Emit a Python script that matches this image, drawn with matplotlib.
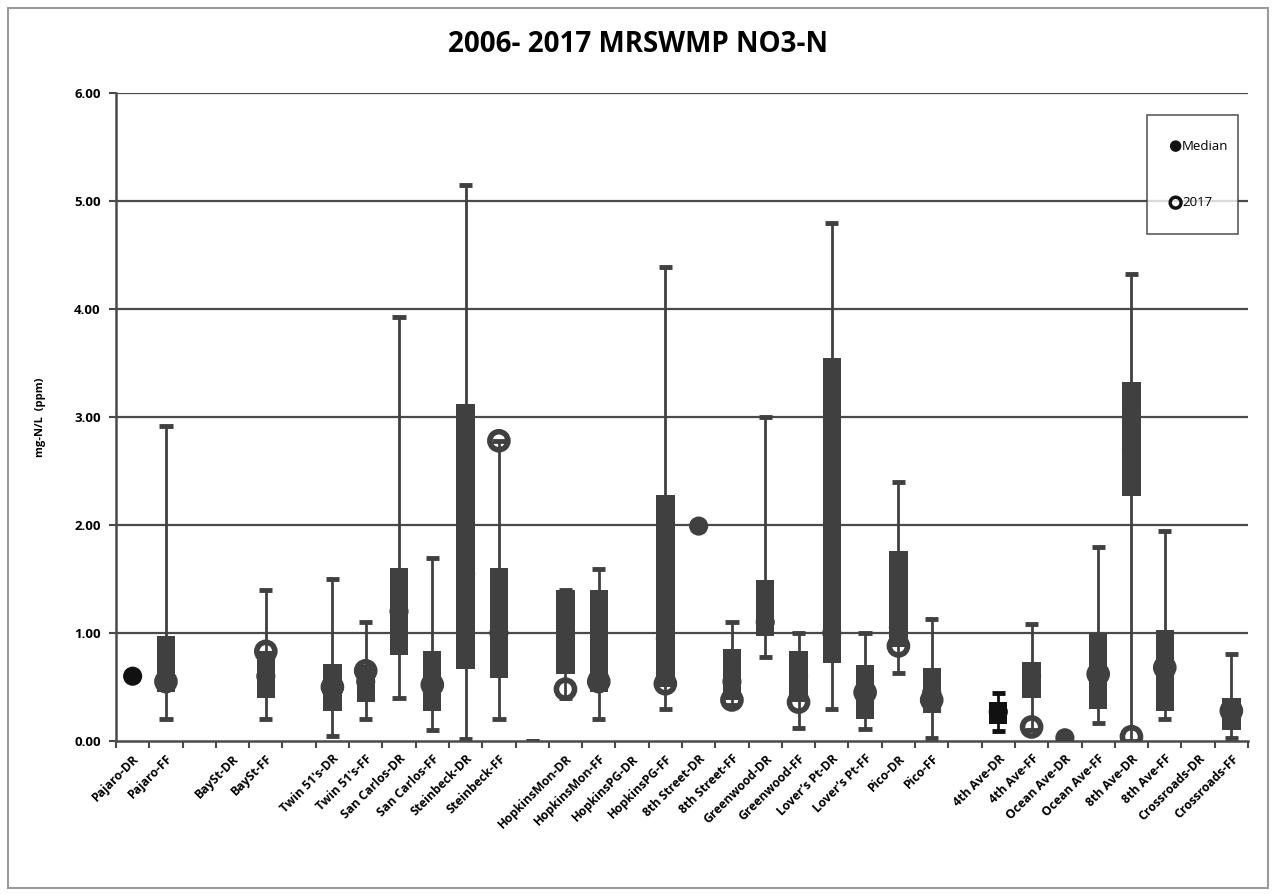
import numpy as np
import matplotlib.pyplot as plt
from matplotlib.patches import Rectangle

plt.rcParams['font.family'] = ['Open Sans', 'DejaVu Sans']

nan = np.nan

# one slot per site, empty strings are the spacer slots
categories = ["Pajaro-DR", "Pajaro-FF", "", "BaySt-DR", "BaySt-FF", "",
              "Twin 51's-DR", "Twin 51's-FF", "San Carlos-DR", "San Carlos-FF",
              "Steinbeck-DR", "Steinbeck-FF", "", "HopkinsMon-DR", "HopkinsMon-FF",
              "HopkinsPG-DR", "HopkinsPG-FF", "8th Street-DR", "8th Street-FF",
              "Greenwood-DR", "Greenwood-FF", "Lover\u2019s Pt-DR", "Lover\u2019s Pt-FF",
              "Pico-DR", "Pico-FF", "", "4th Ave-DR", "4th Ave-FF", "Ocean Ave-DR",
              "Ocean Ave-FF", "8th Ave-DR", "8th Ave-FF", "Crossroads-DR", "Crossroads-FF"]

minimum = [nan, 0.20, nan, nan, 0.20, nan, 0.05, 0.20, 0.40, 0.10, 0.02, 0.20, 0.00,
           0.40, 0.20, nan, 0.30, nan, 0.33, 0.78, 0.12, 0.30, 0.11, 0.63, 0.03, nan,
           0.09, 0.10, nan, 0.17, 0.00, 0.20, nan, 0.03]
q1 = [nan, 0.45, nan, nan, 0.40, nan, 0.28, 0.36, 0.80, 0.28, 0.67, 0.58, nan,
      0.62, 0.45, nan, 0.50, nan, 0.38, 0.97, 0.36, 0.72, 0.20, 0.87, 0.26, nan,
      0.16, 0.40, nan, 0.30, 2.27, 0.28, nan, 0.10]
q3 = [nan, 0.97, nan, nan, 0.83, nan, 0.71, 0.70, 1.60, 0.83, 3.12, 1.60, nan,
      1.40, 1.40, nan, 2.28, nan, 0.85, 1.49, 0.83, 3.55, 0.70, 1.76, 0.68, nan,
      0.36, 0.73, nan, 1.00, 3.32, 1.03, nan, 0.40]
maximum = [nan, 2.92, nan, nan, 1.40, nan, 1.50, 1.10, 3.93, 1.69, 5.15, 2.78, 0.00,
           1.40, 1.59, nan, 4.39, nan, 1.10, 3.00, 1.00, 4.80, 1.00, 2.40, 1.13, nan,
           0.44, 1.08, nan, 1.80, 4.32, 1.94, nan, 0.81]
median = [0.60, 0.55, nan, nan, 0.60, nan, 0.48, 0.55, 1.20, 0.55, 1.55, 1.00, nan,
          1.00, 0.60, nan, 0.95, 1.99, 0.55, 1.10, 0.60, 1.00, 0.45, 1.05, 0.45, nan,
          0.27, 0.60, 0.03, 0.62, 2.70, 0.70, nan, 0.28]
y2017 = [nan, 0.55, nan, nan, 0.83, nan, 0.50, 0.65, nan, 0.52, nan, 2.78, nan,
         0.48, 0.55, nan, 0.53, nan, 0.38, nan, 0.36, nan, 0.45, 0.88, 0.38, nan,
         nan, 0.13, nan, 0.62, 0.04, 0.68, nan, 0.28]

box_color = '#404040'
dark = {"Pajaro-DR": '#111111', "4th Ave-DR": '#111111'}

x = np.arange(len(categories))
colors = [dark.get(c, box_color) for c in categories]

fig = plt.figure(figsize=(12.76, 8.94), dpi=100)
ax = fig.add_axes([116/1276, 1-741/894, 1132/1276, 648/894])

# outer chart frame
fig.patches.append(Rectangle((8/1276, 6/894), 1260/1276, 880/894, transform=fig.transFigure,
                             fill=False, edgecolor='#9a9a9a', lw=1.5))

for yv in range(1, 7):
    ax.axhline(yv, color='#4a4a4a', lw=1.6, zorder=1)

mn = np.array(minimum); mx = np.array(maximum)
lo = np.array(q1); hi = np.array(q3)
ax.vlines(x, mn, mx, colors=colors, lw=2, zorder=2)
ax.hlines(mn, x-0.2, x+0.2, colors=colors, lw=3.5, zorder=2)
ax.hlines(mx, x-0.2, x+0.2, colors=colors, lw=3.5, zorder=2)
ax.bar(x, hi-lo, bottom=lo, width=0.55, color=colors, zorder=3)

ax.scatter(x, median, s=190, c=colors, edgecolors='none', zorder=4, label='Median')
ax.scatter(x, y2017, s=170, facecolors='none', edgecolors=colors, linewidths=4,
           zorder=5, label='2017')

ax.set_xlim(-0.5, len(categories)-0.5)
ax.set_ylim(0, 6)
ax.set_yticks(np.arange(0, 7))
ax.set_yticklabels([f'{v:.2f}' for v in range(7)], fontsize=9.5, fontweight='bold')
ax.set_xticks(x)
ax.set_xticklabels(categories, rotation=45, ha='right', rotation_mode='anchor',
                   fontsize=8.8, fontweight='bold')
ax.set_xticks(np.arange(-0.5, len(categories)), minor=True)
ax.tick_params(axis='x', which='major', length=0, pad=8)
ax.tick_params(axis='x', which='minor', length=5, width=1.5, color='#4a4a4a', direction='out')
ax.tick_params(axis='y', length=5, width=1.5, color='#4a4a4a', pad=6)

for s in ['top', 'right']:
    ax.spines[s].set_visible(False)
for s in ['left', 'bottom']:
    ax.spines[s].set_color('#4a4a4a')
    ax.spines[s].set_linewidth(1.8)

ax.set_ylabel('mg-N/L  (ppm)', fontsize=8, fontweight='bold', labelpad=20)
fig.text(0.5, 1-45/894, '2006- 2017 MRSWMP NO3-N', ha='center', va='center',
         fontsize=20, fontweight='bold')

leg = ax.legend(loc='upper left', bbox_to_anchor=(0.9046, 0.804, 0.092, 0.173), mode='expand',
                fontsize=9.5, labelspacing=3.3, borderpad=1.9, handlelength=0.6,
                handletextpad=0.2, fancybox=False, markerscale=0.6, frameon=True)
leg.get_frame().set_edgecolor('#333333')
leg.get_frame().set_linewidth(1.2)
leg.legend_handles[0].set_facecolor('#111111')
leg.legend_handles[1].set_edgecolor('#111111')
leg.legend_handles[1].set_linewidth(2.5)

fig.savefig('out.png', dpi=100)
